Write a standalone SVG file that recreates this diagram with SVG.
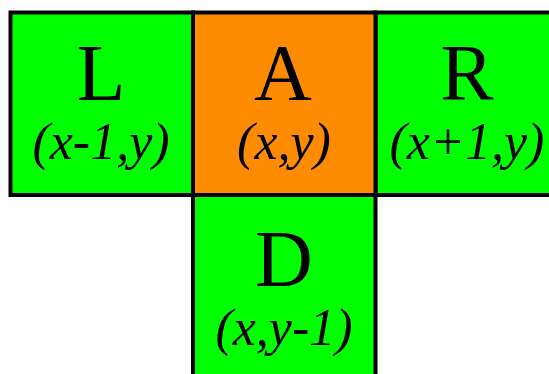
<svg xmlns="http://www.w3.org/2000/svg" width="549" height="374" viewBox="0 0 549 374">
<style>
.cell{stroke:#000;stroke-width:4}
.g{fill:#00ff00}
.o{fill:#ff8c00}
.big{font-family:"Liberation Serif",serif;font-size:80px;text-anchor:middle;fill:#000}
.co{font-family:"Liberation Serif",serif;font-style:italic;font-size:52px;text-anchor:middle;fill:#000}
</style>
<rect width="549" height="374" fill="#fff"/>
<g id="L">
<rect class="cell g" x="10.5" y="12.5" width="182.5" height="182.5"/>
<text class="big" x="101" y="100">L</text>
<text class="co" x="101" y="159">(x-1,y)</text>
</g>
<g id="R">
<rect class="cell g" x="375.5" y="12.5" width="182.5" height="182.5"/>
<text class="big" x="467" y="100">R</text>
<text class="co" x="467" y="159">(x+1,y)</text>
</g>
<g id="D">
<rect class="cell g" x="193" y="195" width="182.5" height="182.5"/>
<text class="big" x="284" y="286">D</text>
<text class="co" x="284" y="345">(x,y-1)</text>
</g>
<g id="A">
<rect class="cell o" x="193" y="12.5" width="182.5" height="182.5"/>
<text class="big" x="283" y="100">A</text>
<text class="co" x="284" y="159">(x,y)</text>
</g>
</svg>
